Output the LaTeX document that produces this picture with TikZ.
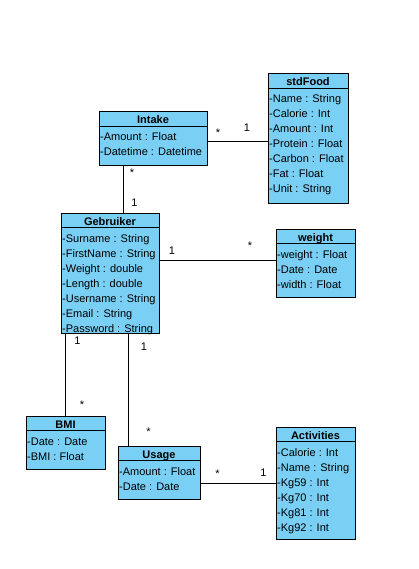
\documentclass[tikz,border=0pt]{standalone}
\usepackage{fontspec}
\setmainfont{Liberation Sans}
\definecolor{umlblue}{RGB}{122,207,245}
\newcommand{\umlclass}[7]{%
  \node[clsbox, minimum width=#4pt, minimum height=#5pt] (#1) at ({#2+#4/2},{#3+#5/2}) {};
  \node[clstitle] (#1-title) at ({#2+#4/2},{#3+12}) {#6};
  \draw[clsline] ({#2},{#3+14.5}) -- ({#2+#4},{#3+14.5});
  \foreach \attr [count=\i] in {#7} {\node[clsattr] (#1-a\i) at ({#2+1},{#3+29+15*(\i-1)}) {\attr};}
}
\begin{document}
\begin{tikzpicture}[x=1pt, y=-1pt, font=\fontsize{11}{13}\selectfont,
  clsbox/.style={draw=black, fill=umlblue, line width=1pt, inner sep=0pt, outer sep=0pt},
  clsline/.style={line width=1pt},
  clstitle/.style={font=\fontsize{11}{13}\selectfont\bfseries, inner sep=0pt, anchor=base},
  clsattr/.style={inner sep=0pt, anchor=base west},
  conn/.style={line width=0.9pt},
  mult/.style={inner sep=0pt, anchor=base}]
\useasboundingbox[fill=white] (0,0) rectangle (419,569);

\umlclass{Intake}{99}{112}{108}{54}{Intake}{-Amount : Float,-Datetime : Datetime}
\umlclass{stdFood}{268}{74}{80}{129}{stdFood}{-Name : String,-Calorie : Int,-Amount : Int,-Protein : Float,-Carbon : Float,-Fat : Float,-Unit : String}
\umlclass{Gebruiker}{61}{213}{98}{120}{Gebruiker}{-Surname : String,-FirstName : String,-Weight : double,-Length : double,-Username : String,-Email : String,-Password : String}
\umlclass{weight}{276}{229}{79}{68}{weight}{-weight : Float,-Date : Date,-width : Float}
\umlclass{BMI}{26}{416}{79}{53}{BMI}{-Date : Date,-BMI : Float}
\umlclass{Usage}{118}{446}{82}{53}{Usage}{-Amount : Float,-Date : Date}
\umlclass{Activities}{276}{427}{79}{112}{Activities}{-Calorie : Int,-Name : String,-Kg59 : Int,-Kg70 : Int,-Kg81 : Int,-Kg92 : Int}

% connectors
\draw[conn] ([yshift=-2pt]Intake.east) -- ([yshift=-2pt]Intake.east -| stdFood.west);
\draw[conn] ([xshift=24pt]Intake.south west) -- ([xshift=24pt]Intake.south west |- Gebruiker.north);
\draw[conn] ([yshift=13pt]Gebruiker.east) -- ([yshift=13pt]Gebruiker.east -| weight.west);
\draw[conn] (BMI.north) -- (BMI.north |- Gebruiker.south);
\draw[conn] ([xshift=10pt]Usage.north west) -- ([xshift=10pt]Usage.north west |- Gebruiker.south);
\draw[conn] (Activities.west) -- (Activities.west -| Usage.east);

% multiplicities
\node[mult] (m1) at (218,136.4) {*};
\node[mult] (m2) at (247,131.7) {1};
\node[mult] (m3) at (132,176.4) {*};
\node[mult] (m4) at (134.5,206.7) {1};
\node[mult] (m5) at (172,254.7) {1};
\node[mult] (m6) at (250,249.4) {*};
\node[mult] (m7) at (77.5,344) {1};
\node[mult] (m8) at (82,408.1) {*};
\node[mult] (m9) at (144,350.7) {1};
\node[mult] (m10) at (148.5,435.4) {*};
\node[mult] (m11) at (217.5,477.4) {*};
\node[mult] (m12) at (263.5,476.7) {1};
\end{tikzpicture}
\end{document}
